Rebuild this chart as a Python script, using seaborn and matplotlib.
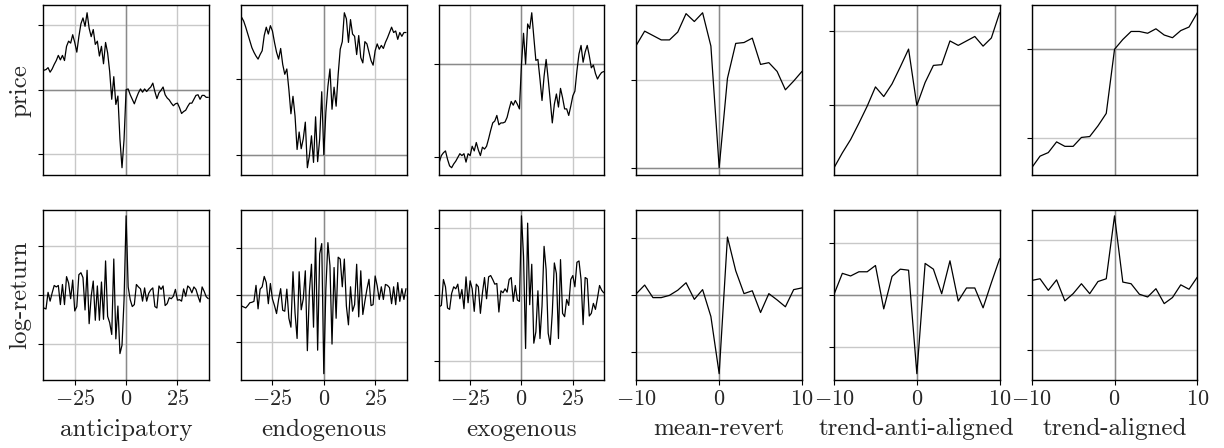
import matplotlib
matplotlib.use("Agg")
import matplotlib.pyplot as plt
import numpy as np
import pandas as pd
import seaborn as sns
from matplotlib.ticker import MultipleLocator, NullFormatter

categories = ["anticipatory", "endogenous", "exogenous",
              "mean-revert", "trend-anti-aligned", "trend-aligned"]
row_labels = ["price", "log-return"]

t_long = list(range(-40, 41))
t_short = list(range(-10, 11))

price_anticipatory = [3.0, 3.1, 3.4, 2.7, 3.2, 3.9, 4.5, 5.3, 4.6, 5.3,
                      4.5, 6.7, 7.5, 7.2, 8.5, 7.3, 5.8, 8.2, 10.2, 11.1,
                      9.8, 11.9, 9.5, 8.2, 9.3, 7.0, 7.5, 5.2, 6.7, 4.0,
                      7.3, 5.7, 2.8, -1.5, 2.0, -2.3, -1.0, -7.7, -12.1, -7.7,
                      0.0, 0.1, -0.8, -1.5, -2.2, -1.3, -0.5, 0.1, -0.4, 0.1,
                      -0.3, 0.1, 0.4, 1.0, -0.3, -1.4, -0.5, -0.1, 0.4, -0.8,
                      -1.3, -1.6, -2.1, -2.5, -2.2, -2.1, -2.8, -3.7, -3.4, -3.2,
                      -2.6, -2.1, -2.1, -1.5, -0.9, -0.8, -1.5, -0.9, -0.9, -1.2, -1.2]
price_endogenous = [18.1, 17.6, 16.8, 15.9, 15.0, 14.1, 13.5, 13.0, 12.6, 13.2,
                    13.7, 15.7, 16.8, 15.9, 17.0, 16.3, 14.8, 13.5, 12.6, 14.0,
                    11.9, 10.6, 11.3, 8.6, 5.4, 7.7, 5.1, 0.7, 3.0, 0.8,
                    2.1, 4.3, -1.7, -0.1, 2.5, -1.0, 5.0, -0.9, 2.1, 8.3,
                    0.0, 5.6, 9.0, 11.3, 6.0, 8.9, 6.4, 10.6, 13.9, 14.9,
                    18.7, 17.9, 14.8, 17.8, 15.9, 15.6, 13.2, 15.7, 12.8, 12.1,
                    14.9, 14.6, 13.5, 12.4, 11.8, 13.7, 14.6, 13.9, 14.4, 14.0,
                    14.8, 15.4, 16.1, 16.8, 16.1, 16.3, 15.2, 16.1, 15.6, 16.1, 16.1]
price_exogenous = [-10.5, -9.8, -9.5, -9.3, -10.2, -10.9, -11.1, -10.7, -10.4, -10.0,
                   -9.6, -9.8, -9.6, -10.5, -9.6, -9.8, -8.8, -9.3, -8.4, -9.2,
                   -9.8, -8.9, -9.1, -8.8, -8.0, -7.1, -6.3, -6.1, -5.5, -6.5,
                   -6.3, -6.3, -6.2, -5.7, -4.8, -4.0, -4.4, -3.9, -4.3, -4.8,
                   0.0, 3.3, 0.0, 4.3, 3.8, 5.5, 2.9, 0.4, 0.5, -1.6,
                   -3.9, -1.3, 0.5, -1.6, -3.9, -6.3, -4.3, -3.2, -4.6, -2.6,
                   -3.6, -4.8, -4.8, -5.5, -4.5, -3.4, -2.9, -0.7, 1.1, 2.0,
                   0.2, 1.3, 2.0, 0.9, -0.4, -0.1, -1.0, -1.6, -1.2, -0.9, -0.8]
price_mean_revert = [14.0, 15.6, 15.1, 14.6, 14.6, 15.5, 17.6, 16.7, 17.7, 13.9,
                     0.0, 10.2, 14.2, 14.3, 14.8, 11.8, 12.0, 11.0, 8.9, 9.9, 11.0]
price_trend_anti = [-8.4, -6.4, -4.6, -2.4, -0.1, 2.5, 1.2, 2.9, 5.2, 7.6,
                    0.0, 3.1, 5.4, 5.5, 8.7, 8.1, 8.7, 9.3, 8.0, 9.1, 12.5]
price_trend_aligned = [-13.3, -12.0, -11.6, -10.4, -10.9, -10.9, -9.9, -9.8, -8.6, -7.2,
                       0.0, 1.1, 2.0, 2.0, 1.8, 2.3, 1.6, 1.3, 2.1, 2.5, 4.1]

ret_anticipatory = [-2.7, -2.9, 0.5, -1.3, 0.4, 1.9, 1.6, 1.9, -2.0, 2.1,
                    -2.0, 3.7, 2.4, -0.8, 3.0, -3.3, -2.4, 4.1, 4.5, 3.5,
                    -3.1, 5.0, -5.9, -0.3, 2.8, -5.2, 1.8, -5.2, 2.6, -5.0,
                    6.9, -4.4, -5.7, -8.1, 7.3, -9.0, -2.3, -12.0, -10.3, -1.0,
                    16.1, 1.6, -1.0, -2.4, -2.0, 2.1, 1.6, 1.2, -1.3, 1.4,
                    -1.3, 0.3, 1.0, 1.4, -2.4, -2.7, 1.8, 1.1, 1.8, -2.2,
                    -1.8, -0.6, -0.8, -0.3, 1.1, -1.1, -1.0, -1.3, 1.2, -0.3,
                    1.8, 1.4, 0.4, 1.6, 1.1, -0.3, -1.5, 1.6, 0.7, -0.4, -0.8]
ret_endogenous = [-2.4, -2.6, -2.8, -2.3, -1.7, -1.6, -1.4, 2.0, -3.0, 1.2,
                  1.7, 3.9, 2.6, -1.9, 2.4, -0.9, -2.3, -4.0, -1.0, 1.3,
                  -3.3, -3.5, 1.2, -5.0, -6.9, 4.9, -3.9, -9.3, 4.9, -3.2,
                  -0.9, 5.1, -11.9, 0.8, 6.5, -6.9, 12.1, -11.8, 8.7, 10.9,
                  -16.8, 1.2, 11.1, 6.2, -10.5, 5.8, -5.0, 8.0, 7.6, 1.7,
                  7.6, -2.4, -6.4, 1.7, -3.5, -2.1, 6.5, -4.7, 5.1, -4.2,
                  -1.4, 1.2, 3.3, -2.3, -2.1, 4.0, 1.9, -1.0, 1.7, -1.0,
                  2.2, 2.0, 1.5, -1.9, 1.7, -2.1, 2.6, -1.4, 1.3, -1.0, 1.3]
ret_exogenous = [-1.8, -1.6, 2.3, 1.2, -2.0, -2.2, 0.2, 1.2, 0.9, 1.6,
                 -0.6, 0.8, -2.1, 2.7, -1.2, 2.1, 0.9, -2.5, 1.6, 1.2,
                 -2.8, 0.3, 2.6, -0.6, 2.7, 2.9, 2.3, 1.6, 1.7, -2.6,
                 0.6, 0.3, 0.9, 0.4, 2.3, 2.6, -1.0, 1.4, -0.8, -1.0,
                 11.9, 5.8, -8.1, 10.8, -1.5, 4.6, -7.3, -5.6, 0.6, -6.6,
                 -1.7, 7.3, 3.8, -5.8, -7.5, -2.7, 4.8, 3.2, -6.6, 5.3,
                 -2.8, -3.3, -0.7, -1.6, 2.3, 2.9, 1.2, 4.9, 5.1, 2.3,
                 -4.5, 2.6, 2.4, -3.2, -2.8, -1.3, -2.2, -0.5, 1.4, 0.7, 0.3]
ret_mean_revert = [0.2, 1.7, -0.5, -0.5, -0.1, 0.8, 2.1, -0.8, 0.9, -3.8,
                   -13.8, 10.1, 4.2, 0.2, 0.7, -3.1, 0.2, -0.9, -2.1, 0.9, 1.2]
ret_trend_anti = [0.1, 4.1, 3.6, 4.4, 4.4, 5.6, -2.7, 3.5, 4.9, 4.7,
                  -15.1, 6.0, 4.9, 0.2, 6.5, -1.2, 1.3, 1.3, -2.5, 2.3, 6.9]
ret_trend_aligned = [2.6, 2.9, 0.8, 2.7, -1.1, 0.2, 2.0, 0.2, 2.4, 2.9,
                     14.3, 2.3, 2.0, 0.1, -0.4, 1.1, -1.6, -0.5, 1.8, 1.0, 3.2]

prices = [price_anticipatory, price_endogenous, price_exogenous,
          price_mean_revert, price_trend_anti, price_trend_aligned]
returns = [ret_anticipatory, ret_endogenous, ret_exogenous,
           ret_mean_revert, ret_trend_anti, ret_trend_aligned]
times = [t_long, t_long, t_long, t_short, t_short, t_short]

sns.set_theme(style="white")
plt.rcParams["font.family"] = "serif"
plt.rcParams["font.serif"] = ["cmr10", "DejaVu Serif"]
plt.rcParams["mathtext.fontset"] = "cm"
plt.rcParams["axes.formatter.use_mathtext"] = True
plt.rcParams["axes.unicode_minus"] = True

fig, axes = plt.subplots(2, 6, figsize=(12.24, 4.48), dpi=100)
fig.subplots_adjust(left=0.0354, right=0.9782, top=0.9888, bottom=0.1518,
                    wspace=0.194, hspace=0.2)

grid_c = "#c8c8c8"
zero_c = "#8a8a8a"

for j in range(6):
    t = times[j]
    for i, series in enumerate([prices[j], returns[j]]):
        ax = axes[i, j]
        df = pd.DataFrame({"t": t, "v": series})
        ax.grid(True, color=grid_c, linewidth=1.0, zorder=0)
        ax.set_axisbelow(True)
        ref = df.loc[df["t"] == 0, "v"].iloc[0] if i == 0 else 0.0
        ax.axhline(ref, color=zero_c, linewidth=1.0, zorder=1)
        ax.axvline(0, color=zero_c, linewidth=1.0, zorder=1)
        sns.lineplot(data=df, x="t", y="v", ax=ax, color="black",
                     linewidth=0.9, zorder=3)
        if j < 3:
            ax.set_xlim(-40.3, 40.3)
            ax.xaxis.set_major_locator(MultipleLocator(25))
        else:
            ax.set_xlim(-10, 10)
            ax.xaxis.set_major_locator(MultipleLocator(10))
        if i == 1:
            m = 1.08 * max(abs(v) for v in series)
            ax.set_ylim(-m, m)
        ax.yaxis.set_major_locator(MultipleLocator(10))
        ax.yaxis.set_major_formatter(NullFormatter())
        ax.tick_params(axis="y", which="major", left=True, length=3.5,
                       width=0.8, color="black")
        for s in ax.spines.values():
            s.set_color("black")
            s.set_linewidth(1.0)
        ax.set_ylabel("")
        ax.set_xlabel("")
        if i == 0:
            ax.tick_params(axis="x", which="major", bottom=False, length=0)
            ax.xaxis.set_major_formatter(NullFormatter())
        else:
            ax.tick_params(axis="x", which="major", bottom=True, length=3.5,
                           width=0.8, color="black", labelsize=16, pad=3)
            ax.set_xlabel(categories[j], fontsize=18, labelpad=7)
        if j == 0:
            ax.set_ylabel(row_labels[i], fontsize=18, labelpad=1.5)

fig.savefig("out.png", dpi=100)
